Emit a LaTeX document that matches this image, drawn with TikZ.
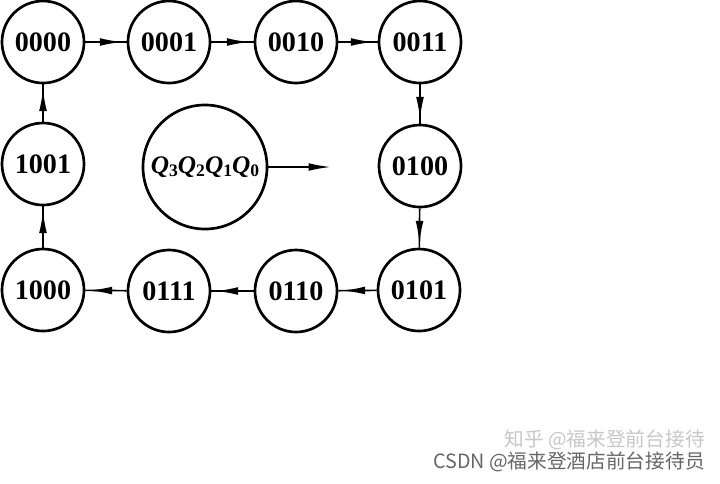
\documentclass[tikz,border=0pt]{standalone}
\usepackage{fontspec}
\setmainfont{Liberation Serif}
\newfontfamily\cjkfont{Noto Sans CJK SC}
\usetikzlibrary{positioning, arrows.meta, decorations.markings}

\newcommand{\qbit}[1]{\textbf{\textit{Q}}\raisebox{-0.3ex}{\fontsize{12.5}{14}\selectfont\bfseries #1}}

\begin{document}
\begin{tikzpicture}[
    x=0.025cm, y=-0.025cm,
    state/.style={circle, draw, line width=1.9pt, minimum size=2.05cm, inner sep=0pt,
        font=\fontsize{20}{22}\selectfont\bfseries},
    legend/.style={circle, draw, line width=1.9pt, minimum size=3.1cm, inner sep=0pt,
        font=\fontsize{18}{22}\selectfont},
    trans/.style={draw, line width=1.2pt, postaction={decorate},
        decoration={markings, mark=at position -3pt with {\arrow{Latex[length=16pt,width=5.5pt]}}}},
    wmark/.style={font=\cjkfont\fontsize{14}{16}\selectfont, inner sep=0pt}
]
    \useasboundingbox (0,0) rectangle (720,483);

    % Top row
    \node[state] (s0) at (43, 42) {0000};
    \node[state] (s1) at (169, 42) {0001};
    \node[state] (s2) at (296, 42) {0010};
    \node[state] (s3) at (420, 42) {0011};

    % Right column
    \node[state] (s4) at (420, 166) {0100};
    \node[state] (s5) at (419, 290) {0101};

    % Bottom row
    \node[state] (s6) at (296, 291) {0110};
    \node[state] (s7) at (169, 291) {0111};
    \node[state] (s8) at (43, 290) {1000};

    % Left column
    \node[state] (s9) at (43, 164) {1001};

    % Transitions
    \draw[trans] (s0) -- (s1);
    \draw[trans] (s1) -- (s2);
    \draw[trans] (s2) -- (s3);
    \draw[trans] (s3) -- (s4);
    \draw[trans] (s4) -- (s5);
    \draw[trans] (s5) -- (s6);
    \draw[trans] (s6) -- (s7);
    \draw[trans] (s7) -- (s8);
    \draw[trans] (s8) -- (s9);
    \draw[trans] (s9) -- (s0);

    % Legend: state order
    \node[legend] (key) at (205, 167) {\qbit{3}\qbit{2}\qbit{1}\qbit{0}};
    \coordinate (keyend) at (331, 167);
    \draw[line width=1.2pt, -{Latex[length=16pt,width=5.5pt]}] (key) -- (keyend);

    % Watermarks
    \node[wmark, text=black!22, anchor=east] (wm1) at (705, 440) {知乎 @福来登前台接待};
    \node[wmark, text=black!60, anchor=east] (wm2) at (705, 462) {CSDN @福来登酒店前台接待员};
\end{tikzpicture}
\end{document}
